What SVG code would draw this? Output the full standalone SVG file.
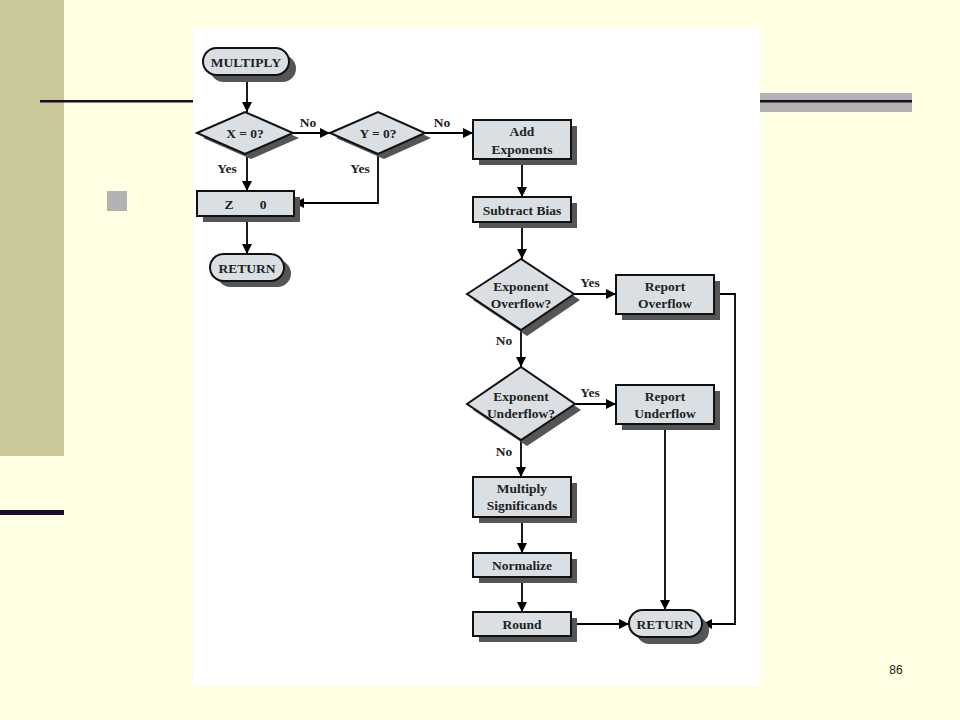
<svg xmlns="http://www.w3.org/2000/svg" width="960" height="720" viewBox="0 0 960 720">
<defs>
<marker id="ah" markerUnits="userSpaceOnUse" markerWidth="10" markerHeight="10" refX="10" refY="5" orient="auto">
<path d="M0,0 L10,5 L0,10 z" fill="#000"/>
</marker>
</defs>
<style>
.shape{fill:#D9DFE3;stroke:#111;stroke-width:2}
.shadow{fill:#555}
.t{font-family:"Liberation Serif",serif;font-weight:bold;font-size:13.5px;fill:#222;text-anchor:middle}
.c{fill:none;stroke:#000;stroke-width:1.8}
.bar{fill:#1F0A2A}
</style>
<rect x="0" y="0" width="960" height="720" fill="#FEFEE2"/>
<rect x="0" y="0" width="64" height="456" fill="#CBC99A"/>
<rect x="40" y="100" width="160" height="2.5" class="bar"/>
<rect x="760" y="93" width="152" height="19" fill="#B3B1B1"/>
<rect x="760" y="100" width="152" height="2.5" class="bar"/>
<rect x="0" y="510" width="64" height="5" class="bar"/>
<rect x="107" y="191" width="20" height="20" fill="#B2B2B2"/>
<text x="896" y="674" font-family="Liberation Sans,sans-serif" font-size="12" fill="#222" text-anchor="middle">86</text>
<rect x="193" y="27" width="567" height="659" fill="#FFFFFF"/>

<g id="connectors">
<path class="c" d="M247,75 V112" marker-end="url(#ah)"/>
<path class="c" d="M293,133 H330" marker-end="url(#ah)"/>
<path class="c" d="M425,133 H473" marker-end="url(#ah)"/>
<path class="c" d="M247,153 V191" marker-end="url(#ah)"/>
<path class="c" d="M378,153 V203 H294" marker-end="url(#ah)"/>
<path class="c" d="M247,216 V254" marker-end="url(#ah)"/>
<path class="c" d="M522,159 V197" marker-end="url(#ah)"/>
<path class="c" d="M522,222 V259" marker-end="url(#ah)"/>
<path class="c" d="M574,294 H616" marker-end="url(#ah)"/>
<path class="c" d="M521,330 V367" marker-end="url(#ah)"/>
<path class="c" d="M575,404 H616" marker-end="url(#ah)"/>
<path class="c" d="M521,440 V477" marker-end="url(#ah)"/>
<path class="c" d="M522,517 V553" marker-end="url(#ah)"/>
<path class="c" d="M522,577 V612" marker-end="url(#ah)"/>
<path class="c" d="M571,624 H629" marker-end="url(#ah)"/>
<path class="c" d="M665,424 V610" marker-end="url(#ah)"/>
<path class="c" d="M714,294 H735 V624 H702" marker-end="url(#ah)"/>
<text class="t" x="308" y="127">No</text>
<text class="t" x="442" y="127">No</text>
<text class="t" x="227" y="173">Yes</text>
<text class="t" x="360" y="173">Yes</text>
<text class="t" x="590" y="287">Yes</text>
<text class="t" x="504" y="345">No</text>
<text class="t" x="590" y="397">Yes</text>
<text class="t" x="504" y="456">No</text>
</g>

<g id="multiply">
<rect class="shadow" x="210" y="55" width="86" height="27" rx="13.5"/>
<rect class="shape" x="203" y="48" width="86" height="27" rx="13.5"/>
<text class="t" x="246" y="66.5">MULTIPLY</text>
</g>
<g id="x-zero">
<polygon class="shadow" points="203,138 251,117 299,138 251,159"/>
<polygon class="shape" points="197,133 245,112 293,133 245,154"/>
<text class="t" x="245" y="137.5">X = 0?</text>
</g>
<g id="y-zero">
<polygon class="shadow" points="336,138 384,117 431,138 384,159"/>
<polygon class="shape" points="330,133 378,112 425,133 378,154"/>
<text class="t" x="378" y="137.5">Y = 0?</text>
</g>
<g id="add-exponents">
<rect class="shadow" x="479" y="126" width="98" height="39"/>
<rect class="shape" x="473" y="120" width="98" height="39"/>
<text class="t" x="522" y="136">Add</text>
<text class="t" x="522" y="153.5">Exponents</text>
</g>
<g id="z-zero">
<rect class="shadow" x="203" y="197" width="97" height="25"/>
<rect class="shape" x="197" y="191" width="97" height="25"/>
<text class="t" x="229" y="208.5">Z</text>
<text class="t" x="263" y="208.5">0</text>
</g>
<g id="return-left">
<rect class="shadow" x="217" y="260" width="74" height="27" rx="13.5"/>
<rect class="shape" x="210" y="254" width="74" height="27" rx="13.5"/>
<text class="t" x="247" y="272.5">RETURN</text>
</g>
<g id="subtract-bias">
<rect class="shadow" x="479" y="203" width="98" height="25"/>
<rect class="shape" x="473" y="197" width="98" height="25"/>
<text class="t" x="522" y="214.5">Subtract Bias</text>
</g>
<g id="overflow-check">
<polygon class="shadow" points="473,300 527,265 580,300 527,336"/>
<polygon class="shape" points="467,294 521,259 574,294 521,330"/>
<text class="t" x="521" y="290.5">Exponent</text>
<text class="t" x="521" y="307.5">Overflow?</text>
</g>
<g id="report-overflow">
<rect class="shadow" x="622" y="281" width="98" height="39"/>
<rect class="shape" x="616" y="275" width="98" height="39"/>
<text class="t" x="665" y="290.5">Report</text>
<text class="t" x="665" y="307.5">Overflow</text>
</g>
<g id="underflow-check">
<polygon class="shadow" points="473,410 527,373 581,410 527,446"/>
<polygon class="shape" points="467,404 521,367 575,404 521,440"/>
<text class="t" x="521" y="400.5">Exponent</text>
<text class="t" x="521" y="417.5">Underflow?</text>
</g>
<g id="report-underflow">
<rect class="shadow" x="622" y="391" width="98" height="39"/>
<rect class="shape" x="616" y="385" width="98" height="39"/>
<text class="t" x="665" y="400.5">Report</text>
<text class="t" x="665" y="417.5">Underflow</text>
</g>
<g id="multiply-significands">
<rect class="shadow" x="479" y="483" width="98" height="40"/>
<rect class="shape" x="473" y="477" width="98" height="40"/>
<text class="t" x="522" y="492.5">Multiply</text>
<text class="t" x="522" y="509.5">Significands</text>
</g>
<g id="normalize">
<rect class="shadow" x="479" y="559" width="98" height="24"/>
<rect class="shape" x="473" y="553" width="98" height="24"/>
<text class="t" x="522" y="569.5">Normalize</text>
</g>
<g id="round">
<rect class="shadow" x="479" y="618" width="98" height="24"/>
<rect class="shape" x="473" y="612" width="98" height="24"/>
<text class="t" x="522" y="628.5">Round</text>
</g>
<g id="return-right">
<rect class="shadow" x="636" y="617" width="73" height="27" rx="13.5"/>
<rect class="shape" x="629" y="610" width="73" height="27" rx="13.5"/>
<text class="t" x="665" y="628.5">RETURN</text>
</g>
</svg>
